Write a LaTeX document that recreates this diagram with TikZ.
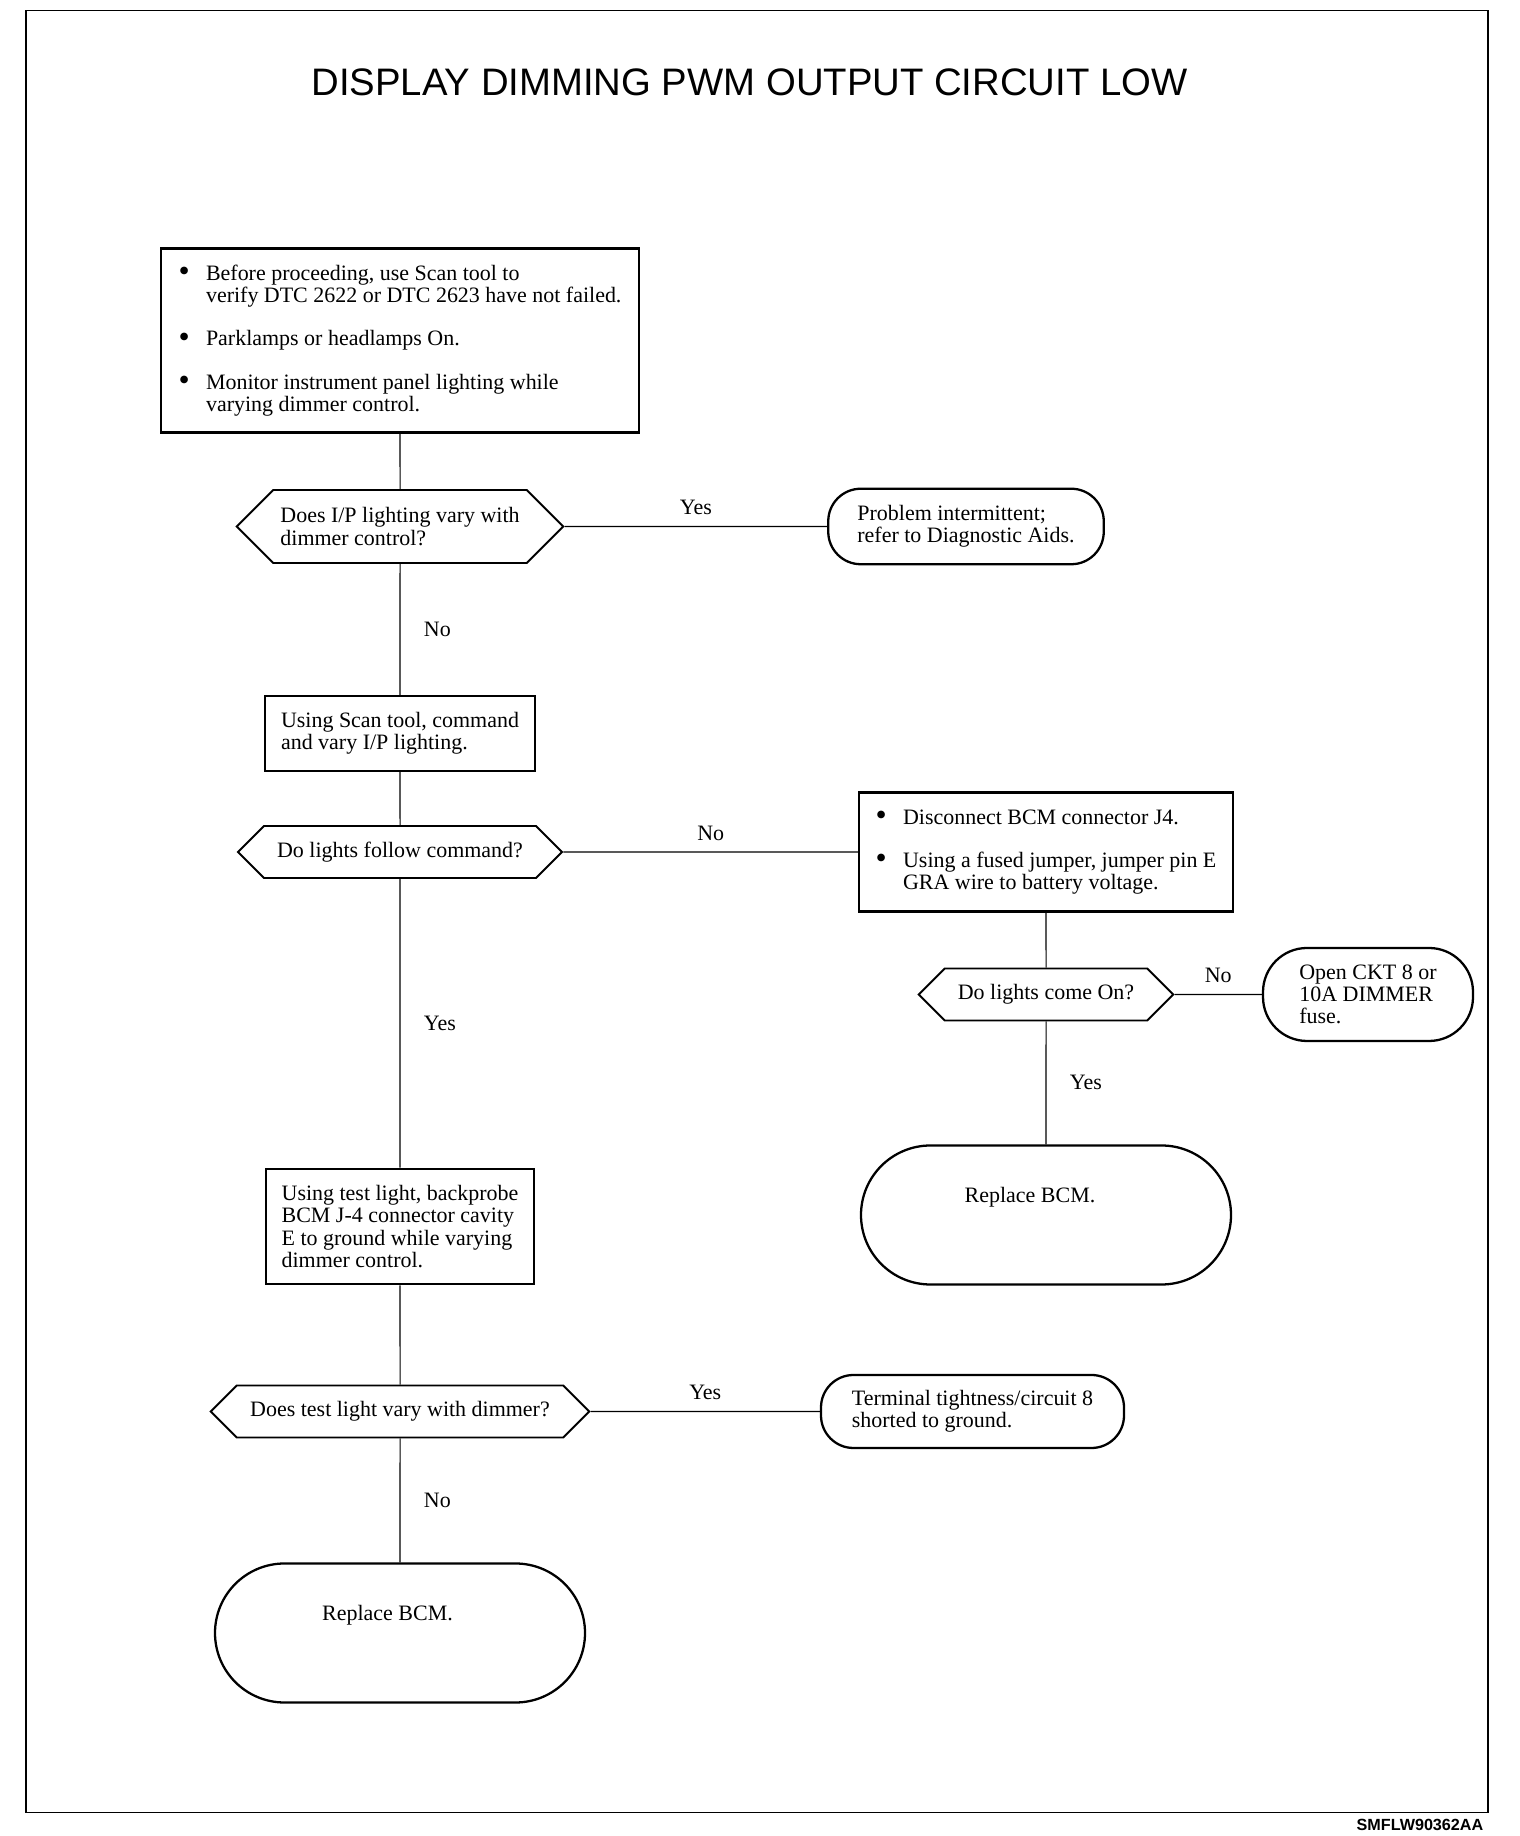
\documentclass[tikz,border=0pt]{standalone}
\usepackage{fontspec}
\setmainfont{Liberation Serif}
\newfontfamily\headfont{Liberation Sans}
\usetikzlibrary{shapes,arrows,positioning}

\newcommand{\bul}{\makebox[0.55cm][l]{\raisebox{-0.06em}{\scalebox{1.45}{\textbullet}}}}
\newcommand{\ind}{\hspace*{0.55cm}}

\begin{document}
\begin{tikzpicture}[
    bodytext/.style={font=\fontsize{12.5}{12.7}\selectfont, align=left},
    stepbox/.style={rectangle, draw=black, line width=1.3pt, bodytext, inner sep=0pt},
    askbox/.style={signal, signal to=east and west, signal pointer angle=90, draw=black, line width=1.1pt, bodytext, inner sep=0pt},
    endbox/.style={rectangle, rounded corners=0.65cm, draw=black, line width=1.3pt, bodytext, inner sep=0pt},
    bigendbox/.style={endbox, rounded corners=1.39cm, text height=0.3cm, text depth=0.8cm, minimum width=7.4cm, minimum height=2.78cm},
    link/.style={line width=0.6pt},
    answer/.style={font=\fontsize{12.5}{12.7}\selectfont}
]
\useasboundingbox (0,0) rectangle (30.4,36.72);

% Frame and title
\draw[line width=0.9pt] (0.52,0.47) rectangle (29.76,36.51);
\node[font=\headfont\fontsize{21.8}{24}\selectfont] (title) at (14.99,35.07) {DISPLAY DIMMING PWM OUTPUT CIRCUIT LOW};
\node[font=\headfont\bfseries\fontsize{9.2}{10}\selectfont, anchor=east] (figid) at (29.79,0.22) {SMFLW90362AA};

% Left column
\node[stepbox, minimum width=9.57cm, minimum height=3.68cm] (prep) at (8.0,29.91) {\bul Before proceeding, use Scan tool to\\\ind verify DTC 2622 or DTC 2623 have not failed.\\[0.42cm]\bul Parklamps or headlamps On.\\[0.42cm]\bul Monitor instrument panel lighting while\\\ind varying dimmer control.};
\node[askbox, minimum width=6.53cm, minimum height=1.46cm] (askvary) at (8.0,26.19) {Does I/P lighting vary with\\dimmer control?};
\node[stepbox, minimum width=5.4cm, minimum height=1.49cm] (scancmd) at (8.0,22.05) {Using Scan tool, command\\and vary I/P lighting.};
\node[askbox, minimum width=6.48cm, minimum height=1.04cm] (askfollow) at (8.0,19.68) {Do lights follow command?};
\node[stepbox, minimum width=5.37cm, minimum height=2.31cm] (probe) at (8.0,12.19) {Using test light, backprobe\\BCM J-4 connector cavity\\E to ground while varying\\dimmer control.};
\node[askbox, minimum width=7.57cm, minimum height=1.04cm] (asktest) at (8.0,8.49) {Does test light vary with dimmer?};
\node[bigendbox] (bcmleft) at (8.0,4.06) {\hspace*{-0.5cm}Replace BCM.};

% Right side
\node[endbox, minimum width=5.51cm, minimum height=1.51cm] (intermit) at (19.32,26.19) {Problem intermittent;\\refer to Diagnostic Aids.};
\node[stepbox, minimum width=7.47cm, minimum height=2.38cm] (jumper) at (20.92,19.68) {\bul Disconnect BCM connector J4.\\[0.42cm]\bul Using a fused jumper, jumper pin E\\\ind GRA wire to battery voltage.};
\node[askbox, minimum width=5.09cm, minimum height=1.04cm] (askon) at (20.92,16.83) {Do lights come On?};
\node[endbox, rounded corners=0.88cm, minimum width=4.2cm, minimum height=1.86cm] (openckt) at (27.36,16.83) {Open CKT 8 or\\10A DIMMER\\fuse.};
\node[bigendbox] (bcmright) at (20.92,12.42) {\hspace*{-0.64cm}Replace BCM.};
\node[endbox, minimum width=6.06cm, minimum height=1.46cm] (shorted) at (19.45,8.49) {Terminal tightness/circuit 8\\shorted to ground.};

% Connectors
\draw[link] (prep) -- (askvary);
\draw[link] (askvary) -- node[answer, midway, above=0.1cm] {Yes} (intermit);
\draw[link] (askvary) -- node[answer, midway, right=0.35cm] {No} (scancmd);
\draw[link] (scancmd) -- (askfollow);
\draw[link] (askfollow) -- node[answer, midway, above=0.1cm] {No} (jumper);
\draw[link] (askfollow) -- node[answer, midway, right=0.35cm] {Yes} (probe);
\draw[link] (jumper) -- (askon);
\draw[link] (askon) -- node[answer, midway, above=0.1cm] {No} (openckt);
\draw[link] (askon) -- node[answer, midway, right=0.35cm] {Yes} (bcmright);
\draw[link] (probe) -- (asktest);
\draw[link] (asktest) -- node[answer, midway, above=0.1cm] {Yes} (shorted);
\draw[link] (asktest) -- node[answer, midway, right=0.35cm] {No} (bcmleft);

\end{tikzpicture}
\end{document}
